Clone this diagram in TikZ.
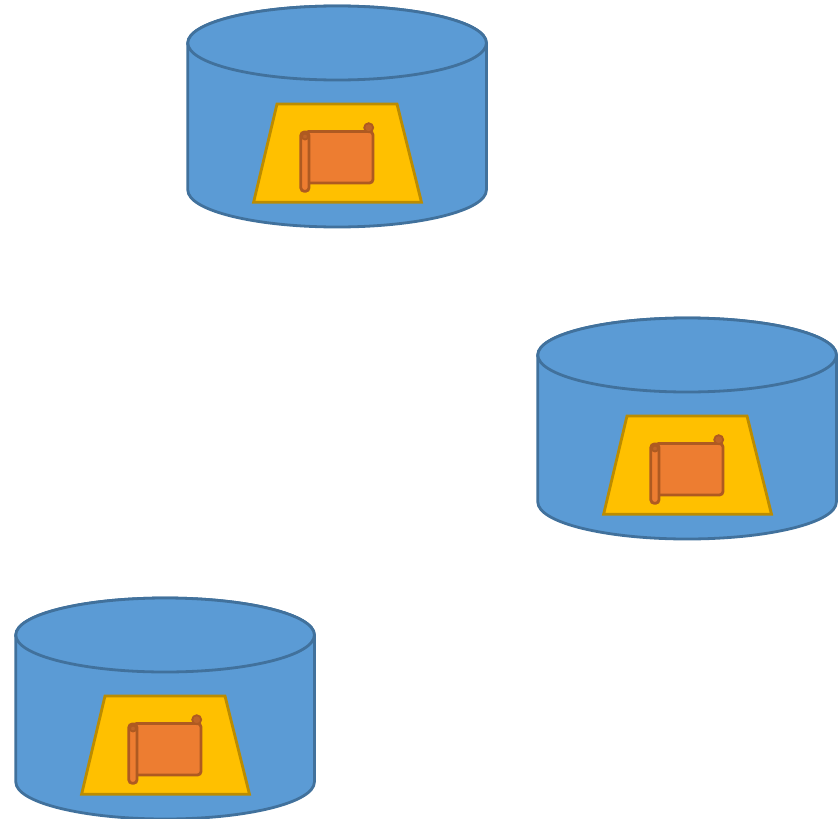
\documentclass[tikz,border=0pt]{standalone}
\usepackage{tikz}
\definecolor{drumblue}{HTML}{5B9BD5}
\definecolor{drumline}{HTML}{41719C}
\definecolor{tabgold}{HTML}{FFC000}
\definecolor{tabline}{HTML}{BC8C00}
\definecolor{scrollfill}{HTML}{ED7D31}
\definecolor{scrollline}{HTML}{AE5A21}
\definecolor{curlfill}{HTML}{BE6428}
\tikzset{every picture/.style={line width=2.8pt},
drum/.style={fill=drumblue,draw=drumline},
tab/.style={fill=tabgold,draw=tabline,line join=miter},
scroll/.style={fill=scrollfill,draw=scrollline,rounded corners=3.5pt},
curl/.style={fill=curlfill,draw=scrollline,line width=1.8pt}}
\begin{document}
\begin{tikzpicture}[x=1pt,y=-1pt]
\useasboundingbox (0,0) rectangle (838,819);

\foreach \x / \y in {0 / 0, 350 / 312, -172 / 592} {
\begin{scope}[shift={(\x,\y)}]
\draw [drum] (187.8,43) -- (187.8,190) arc[start angle=180,end angle=0,x radius=149.3,y radius=37] -- (486.4,43) arc[start angle=0,end angle=-180,x radius=149.3,y radius=37] -- cycle;
\draw [drum] (337.1,43) ellipse [x radius=149.3,y radius=37];

\draw [tab] (277,104) -- (397,104) -- (421.5,202.3) -- (253.6,202.3) -- cycle;

\draw [scroll] (305,131.5) -- (373,131.5) -- (373,183) -- (305,183) -- cycle;
\draw [curl] (368.7,127.7) circle [radius=4.5pt];
\draw [scroll] (300.8,132) -- (309,132) -- (309,191.3) -- (300.8,191.3) -- cycle;
\draw [curl] (305,136.5) circle [radius=3pt];
\end{scope}
}

\end{tikzpicture}
\end{document}
